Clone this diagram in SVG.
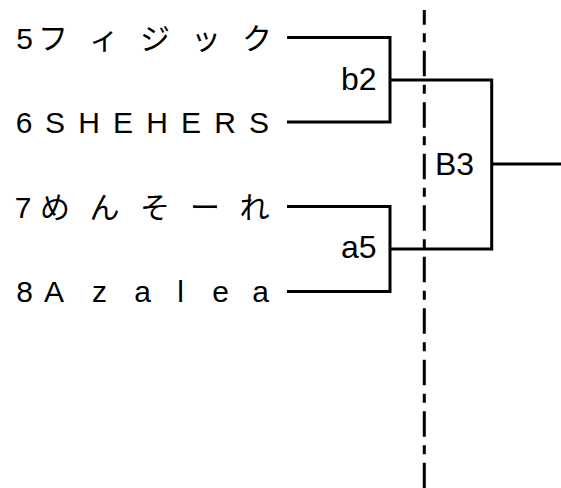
<svg xmlns="http://www.w3.org/2000/svg" width="561" height="488" viewBox="0 0 561 488">
<style>
text{font-family:"Liberation Sans","Noto Sans CJK JP",sans-serif;font-size:30px;fill:#000}
.t{text-anchor:middle}
.m{font-size:32px}
.lbl{text-anchor:end}
.ln{fill:none;stroke:#000;stroke-width:3;stroke-linecap:butt;stroke-linejoin:miter}
.div{fill:none;stroke:#000;stroke-width:3;stroke-dasharray:25.5 8.5 9 8.5;stroke-dashoffset:10.7}
</style>
<rect width="561" height="488" fill="#fff"/>
<g id="divider">
<line class="div" x1="424.3" y1="10" x2="424.3" y2="488"/>
</g>
<g id="connectors">
<polyline class="ln" points="287,37.5 390,37.5 390,122 287,122"/>
<polyline class="ln" points="287,206.5 390,206.5 390,291.5 287,291.5"/>
<polyline class="ln" points="390,80 491.7,80 491.7,249 390,249"/>
<line class="ln" x1="491.7" y1="164" x2="561" y2="164"/>
</g>
<g id="team5"><text class="t" x="24.5 53 104 155 206 257" y="48.5">5フィジック</text></g>
<g id="team6"><text class="t" x="24 55 89 123 157 191 225 259" y="133">6SHEHERS</text></g>
<g id="team7"><text class="t" x="23 55 104.5 155 205 254.5" y="218">7めんそーれ</text></g>
<g id="team8"><text class="t" x="24.5 54 99.5 142.5 180.5 220.5 260.5" y="302">8Azalea</text></g>
<g id="match-b2"><text class="m lbl" x="376.5" y="90">b2</text></g>
<g id="match-a5"><text class="m lbl" x="376.5" y="258">a5</text></g>
<g id="match-B3"><text class="m" x="435" y="175">B3</text></g>
</svg>
